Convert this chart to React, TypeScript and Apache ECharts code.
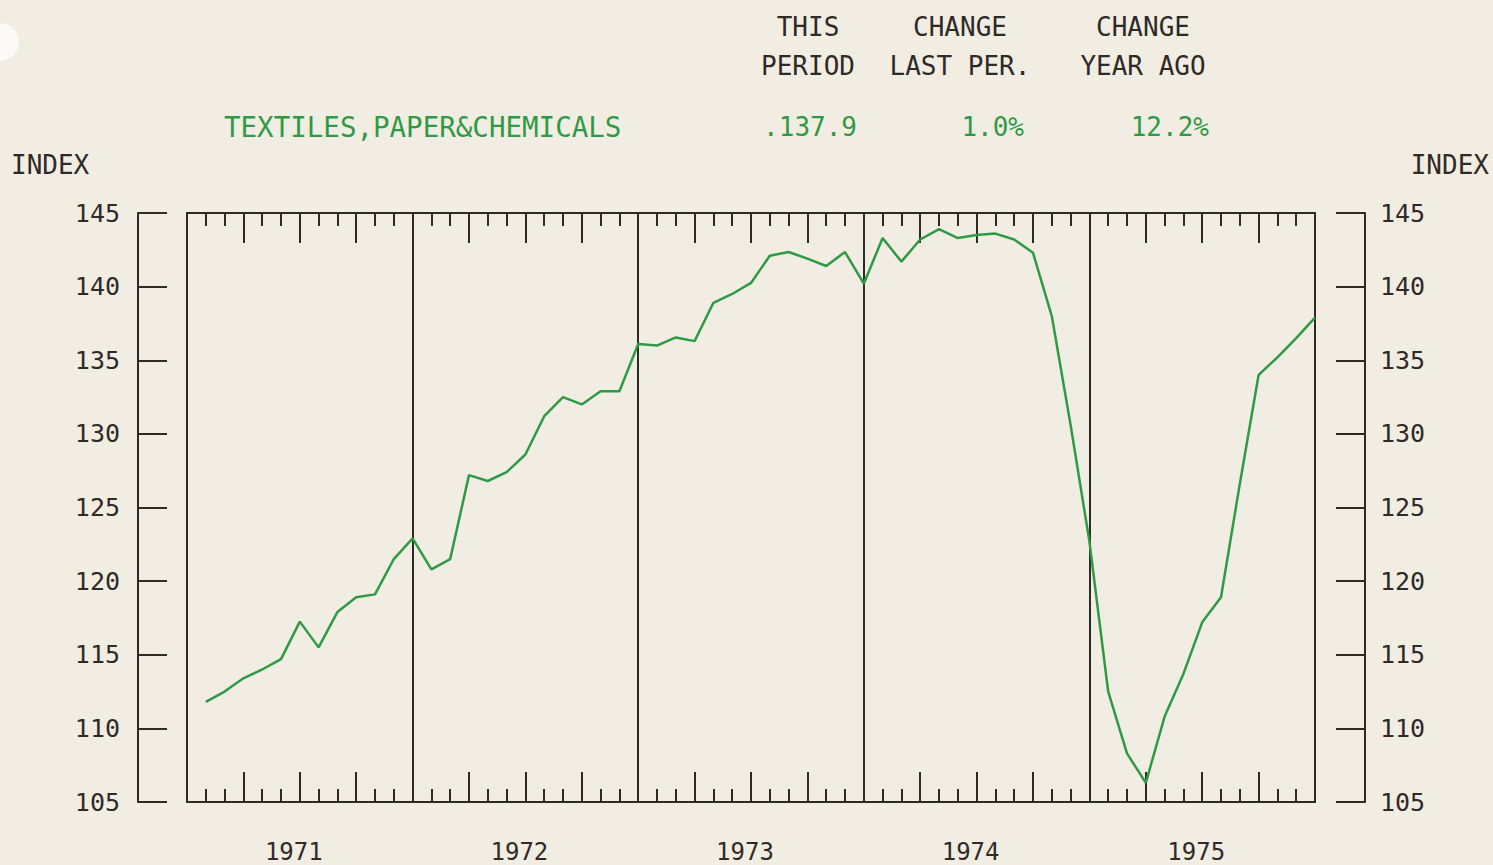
import React, { useEffect, useRef } from "react";
import * as echarts from "echarts";

// ---- data ----
const years = ["1971", "1972", "1973", "1974", "1975"];
// monthly index values, Feb 1971 .. Jan 1976 (60 points on a month scale 0..60)
const indexValues = [
  111.8, 112.5, 113.4, 114.0, 114.7, 117.25, 115.5, 117.9, 118.9, 119.1, 121.5, 122.9,
  120.8, 121.5, 127.2, 126.8, 127.4, 128.6, 131.2, 132.5, 132.0, 132.9, 132.9, 136.1,
  136.0, 136.55, 136.3, 138.9, 139.5, 140.25, 142.1, 142.35, 141.9, 141.4, 142.35, 140.2,
  143.3, 141.7, 143.2, 143.9, 143.3, 143.5, 143.6, 143.2, 142.3, 138.0, 130.6, 122.7,
  112.5, 108.3, 106.3, 110.8, 113.7, 117.2, 118.9, 126.6, 134.0, 135.2, 136.5, 137.9,
];
const yMin = 105;
const yMax = 145;
const yStep = 5;
const monthsTotal = 60;

const seriesName = "TEXTILES,PAPER&CHEMICALS";
const headerRow1 = ["THIS", "CHANGE", "CHANGE"];
const headerRow2 = ["PERIOD", "LAST PER.", "YEAR AGO"];
const headerValues = [".137.9", "1.0%", "12.2%"];
const axisName = "INDEX";

const BG = "#f2ede2";
const INK = "#2f2a28";
const GREEN = "#2f9a46";
const FONT = "DejaVu Sans Mono";

export default function App() {
  const ref = useRef<HTMLDivElement>(null);

  useEffect(() => {
    if (!ref.current) return;
    const chart = echarts.init(ref.current, undefined, { renderer: "svg" });

    const line = { color: INK, width: 2 };
    const monthAxis = (position: "top" | "bottom", interval: number, len: number, showLine: boolean) => ({
      type: "value" as const,
      min: 0,
      max: monthsTotal,
      interval,
      position,
      axisLine: { show: showLine, onZero: false, lineStyle: line },
      axisTick: { show: true, inside: true, length: len, lineStyle: line },
      axisLabel: { show: false },
      splitLine: { show: false },
    });

    const headerCols = [808, 960, 1143];
    const valueRight = [857, 1024, 1209];

    const graphics: any[] = [
      { type: "circle", shape: { cx: 0, cy: 42, r: 19 }, style: { fill: "#fbfaf7" }, silent: true },
    ];
    headerRow1.forEach((t, i) =>
      graphics.push({
        type: "text",
        style: { text: t, x: headerCols[i], y: 27, textAlign: "center", textVerticalAlign: "middle", fill: INK, font: `26px "${FONT}"` },
      })
    );
    headerRow2.forEach((t, i) =>
      graphics.push({
        type: "text",
        style: { text: t, x: headerCols[i], y: 66, textAlign: "center", textVerticalAlign: "middle", fill: INK, font: `26px "${FONT}"` },
      })
    );
    headerValues.forEach((t, i) =>
      graphics.push({
        type: "text",
        style: { text: t, x: valueRight[i], y: 127, textAlign: "right", textVerticalAlign: "middle", fill: GREEN, font: `26px "${FONT}"` },
      })
    );
    graphics.push({
      type: "text",
      style: { text: seriesName, x: 224, y: 127, textAlign: "left", textVerticalAlign: "middle", fill: GREEN, font: `27.5px "${FONT}"` },
    });
    graphics.push({
      type: "text",
      style: { text: axisName, x: 11, y: 165, textAlign: "left", textVerticalAlign: "middle", fill: INK, font: `26px "${FONT}"` },
    });
    graphics.push({
      type: "text",
      style: { text: axisName, x: 1489, y: 165, textAlign: "right", textVerticalAlign: "middle", fill: INK, font: `26px "${FONT}"` },
    });

    const labelStyle = { color: INK, fontFamily: FONT, fontSize: 25 };

    chart.setOption({
      animation: false,
      backgroundColor: BG,
      textStyle: { fontFamily: FONT },
      grid: { left: 187, right: 178, top: 213, bottom: 63, containLabel: false },
      graphic: graphics,
      xAxis: [
        monthAxis("bottom", 1, 13, true),
        monthAxis("bottom", 3, 30, false),
        {
          type: "value",
          min: 0,
          max: monthsTotal,
          interval: 12,
          position: "bottom",
          axisLine: { show: false },
          axisTick: { show: false },
          axisLabel: { show: false },
          splitLine: { show: true, lineStyle: line },
        },
        monthAxis("top", 1, 13, true),
        monthAxis("top", 3, 30, false),
        {
          type: "category",
          data: years,
          boundaryGap: true,
          position: "bottom",
          axisLine: { show: false },
          axisTick: { show: false },
          axisLabel: { ...labelStyle, fontSize: 24, lineHeight: 24, margin: 38, padding: [0, 12, 0, 0] },
          splitLine: { show: false },
        },
      ],
      yAxis: [
        {
          type: "value", min: yMin, max: yMax, interval: yStep, position: "left", offset: 0,
          axisLine: { show: true, onZero: false, lineStyle: line }, axisTick: { show: false },
          axisLabel: { show: false }, splitLine: { show: false },
        },
        {
          type: "value", min: yMin, max: yMax, interval: yStep, position: "right", offset: 0,
          axisLine: { show: true, onZero: false, lineStyle: line }, axisTick: { show: false },
          axisLabel: { show: false }, splitLine: { show: false },
        },
        {
          type: "value", min: yMin, max: yMax, interval: yStep, position: "left", offset: 49,
          axisLine: { show: true, onZero: false, lineStyle: line },
          axisTick: { show: true, inside: true, length: 29, lineStyle: line },
          axisLabel: { ...labelStyle, margin: 18 }, splitLine: { show: false },
        },
        {
          type: "value", min: yMin, max: yMax, interval: yStep, position: "right", offset: 50,
          axisLine: { show: true, onZero: false, lineStyle: line },
          axisTick: { show: true, inside: true, length: 29, lineStyle: line },
          axisLabel: { ...labelStyle, margin: 15 }, splitLine: { show: false },
        },
      ],
      series: [
        {
          name: seriesName,
          type: "line",
          xAxisIndex: 0,
          yAxisIndex: 0,
          data: indexValues.map((v, i) => [i + 1, v]),
          showSymbol: false,
          symbol: "none",
          lineStyle: { color: GREEN, width: 2.5 },
          z: 10,
        },
      ],
    });

    return () => chart.dispose();
  }, []);

  return (
    <div
      ref={ref}
      style={{ position: "fixed", left: 0, top: 0, width: 1493, height: 865, background: BG }}
    />
  );
}
